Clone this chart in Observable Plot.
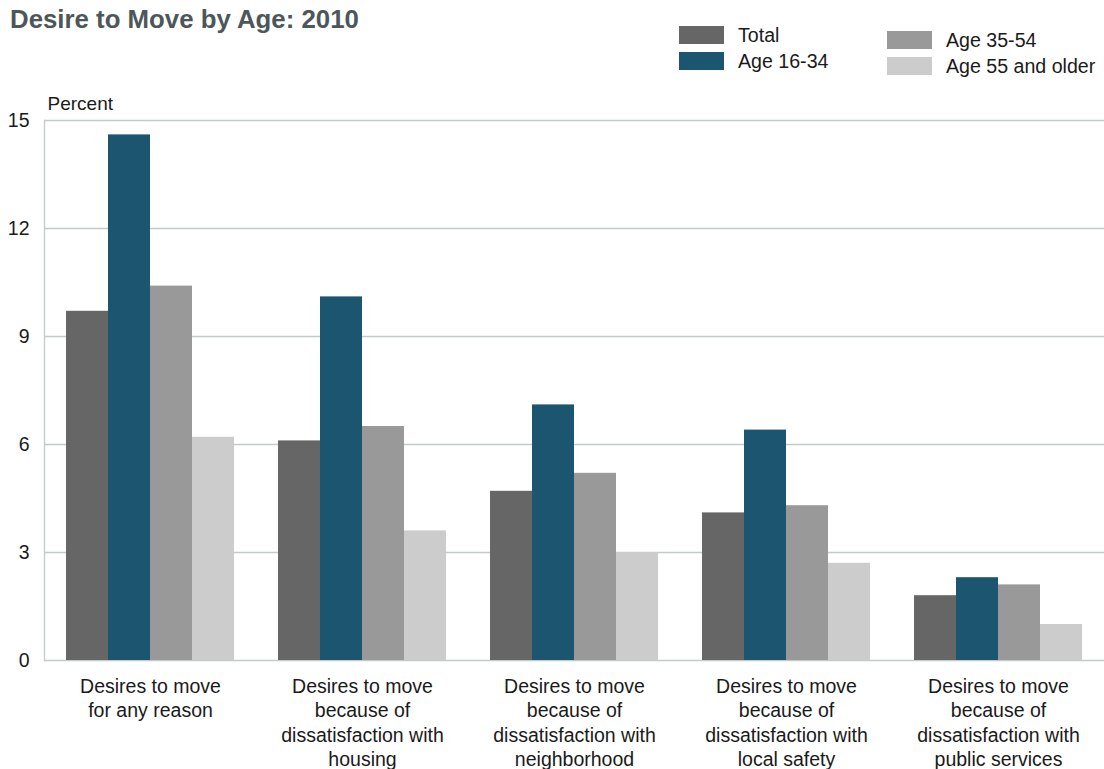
<!DOCTYPE html>
<html>
<head>
<meta charset="utf-8">
<script src="https://cdn.jsdelivr.net/npm/d3@7"></script>
<script src="https://cdn.jsdelivr.net/npm/@observablehq/plot@0.6"></script>
<style>
  html, body { margin: 0; padding: 0; background: #fff; }
  body { width: 1104px; height: 769px; position: relative; overflow: hidden;
         font-family: "Liberation Sans", Arial, sans-serif; }
  #title { position: absolute; left: 10px; top: 5px; font-size: 25.8px; font-weight: bold; color: #4d5759; }
  .legend { position: absolute; font-size: 19.6px; color: #1a1a1a; }
  .item { display: flex; align-items: center; height: 26px; }
  .sw { width: 45px; height: 18px; margin-right: 14px; }
  #chart { position: absolute; left: 0; top: 90px; }
</style>
</head>
<body>
<div id="title">Desire to Move by Age: 2010</div>
<div class="legend" id="legA" style="left:679px; top:22px;"></div>
<div class="legend" id="legB" style="left:887px; top:27px;"></div>
<div id="chart"></div>
<script>
// Reasons for wanting to move (one group of bars each)
const categories = [
  "Desires to move\nfor any reason",
  "Desires to move\nbecause of\ndissatisfaction with\nhousing",
  "Desires to move\nbecause of\ndissatisfaction with\nneighborhood",
  "Desires to move\nbecause of\ndissatisfaction with\nlocal safety",
  "Desires to move\nbecause of\ndissatisfaction with\npublic services"
];
const series = ["Total", "Age 16-34", "Age 35-54", "Age 55 and older"];
const colors = ["#666666", "#1b5570", "#999999", "#cccccc"];

// Percent wishing to move, per reason
const total    = [9.7, 6.1, 4.7, 4.1, 1.8];
const age16_34 = [14.6, 10.1, 7.1, 6.4, 2.3];
const age35_54 = [10.4, 6.5, 5.2, 4.3, 2.1];
const age55up  = [6.2, 3.6, 3.0, 2.7, 1.0];
const yTicks = [0, 3, 6, 9, 12, 15];

const valuesBySeries = [total, age16_34, age35_54, age55up];
const data = [];
categories.forEach((c, i) => {
  series.forEach((s, j) => data.push({category: c, series: s, value: valuesBySeries[j][i]}));
});

// Legend in two columns
function legend(el, names) {
  names.forEach(n => {
    const row = document.createElement("div");
    row.className = "item";
    const sw = document.createElement("div");
    sw.className = "sw";
    sw.style.background = colors[series.indexOf(n)];
    const t = document.createElement("span");
    t.textContent = n;
    row.append(sw, t);
    el.append(row);
  });
}
legend(document.getElementById("legA"), ["Total", "Age 16-34"]);
legend(document.getElementById("legB"), ["Age 35-54", "Age 55 and older"]);

const chart = Plot.plot({
  width: 1104,
  height: 679,
  marginLeft: 44,
  marginRight: 0,
  marginTop: 30,
  marginBottom: 109,
  style: {fontFamily: "Liberation Sans, Arial, sans-serif", fontSize: "19.5px", color: "#1a1a1a", background: "#fff"},
  fx: {domain: categories, paddingInner: 0, paddingOuter: 0, label: null},
  x: {domain: series, axis: null, paddingInner: 0, paddingOuter: 0.5},
  y: {domain: [0, 15], axis: null},
  color: {domain: series, range: colors},
  marks: [
    Plot.gridY(yTicks, {stroke: "#c3cacc", strokeOpacity: 1, strokeWidth: 1.3}),
    Plot.frame({anchor: "left", stroke: "#c3cacc", strokeWidth: 1.3, facetAnchor: "left"}),
    Plot.axisY(yTicks, {tickSize: 0, tickPadding: 15, fontSize: 19.5, facetAnchor: "left", label: null}),
    Plot.text(["Percent"], {frameAnchor: "top-left", lineAnchor: "middle", dy: -17, dx: 3, textAnchor: "start", fontSize: 19, facetAnchor: "left"}),
    Plot.barY(data, {fx: "category", x: "series", y: "value", fill: "series"}),
    Plot.axisFx({anchor: "bottom", tickSize: 0, tickPadding: 15, fontSize: 19.5, lineHeight: 1.25, label: null, textAnchor: "middle"})
  ]
});
document.getElementById("chart").append(chart);
</script>
</body>
</html>
